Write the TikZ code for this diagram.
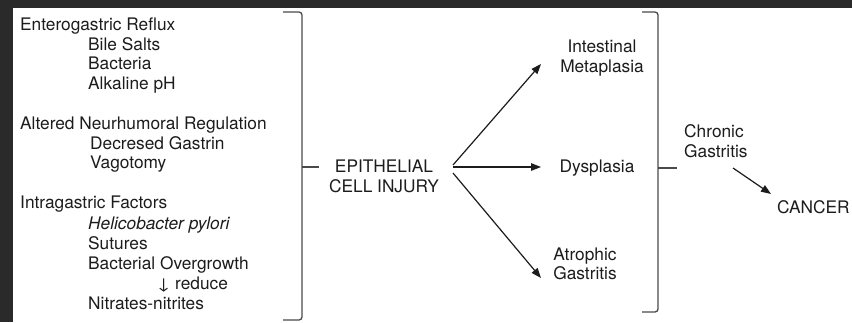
\documentclass[tikz,border=0pt]{standalone}
\usepackage{fontspec}
\setmainfont{TeX Gyre Heros}
\usetikzlibrary{arrows.meta}
\definecolor{ink}{HTML}{1C1C1C}
\definecolor{bgdark}{HTML}{2A2A2A}
\definecolor{brk}{HTML}{4A4A4A}
\begin{document}
\begin{tikzpicture}[x=1pt,y=-1pt,
  txt/.style={inner sep=0pt,font=\fontsize{17.3}{20}\selectfont,text=ink},
  lw/.style={txt,anchor=base west},
  cw/.style={txt,anchor=base},
  bracket/.style={draw=brk,line width=1.3pt,rounded corners=3pt},
  conn/.style={draw=ink,line width=1.2pt,-{Triangle[length=10pt,width=7.5pt]}}]
\useasboundingbox (0,0) rectangle (852,322);
\fill[bgdark] (0,0) rectangle (852,322);
\fill[white] (13,8) rectangle (852,322);
% left column
\node[lw] (t1) at (20,30) {Enterogastric Reflux};
\node[lw] (t2) at (88,50) {Bile Salts};
\node[lw] (t3) at (88,69.5) {Bacteria};
\node[lw] (t4) at (88,89) {Alkaline pH};
\node[lw] (t5) at (20,129) {Altered Neurhumoral Regulation};
\node[lw] (t6) at (90,149) {Decresed Gastrin};
\node[lw] (t7) at (90,168.5) {Vagotomy};
\node[lw] (t8) at (20,208) {Intragastric Factors};
\node[lw] (t9) at (88,229) {\itshape Helicobacter pylori};
\node[lw] (t10) at (88,249) {Sutures};
\node[lw] (t11) at (88,269) {Bacterial Overgrowth};
\node[lw] (t12) at (157,289) {↓ reduce};
\node[lw] (t13) at (88,309) {Nitrates-nitrites};
% left bracket
\draw[bracket] (283,12) -- (302,12) -- (302,320) -- (283,320);
\draw[draw=brk,line width=1.3pt] (302,167) -- (319,167);
% central
\node[cw] (e1) at (384,172) {EPITHELIAL};
\node[cw] (e2) at (384,192) {CELL INJURY};
\coordinate (s1) at (453,165);
\coordinate (s2) at (453,167);
\coordinate (s3) at (453,173);
% outcomes
\node[cw] (m1) at (602,52) {Intestinal};
\node[cw] (m2) at (602,72) {Metaplasia};
\node[cw] (d1) at (597,172) {Dysplasia};
\node[cw] (a1) at (585,260) {Atrophic};
\node[cw] (a2) at (585,279) {Gastritis};
\coordinate (g1) at (541,64);
\coordinate (g2) at (541,167);
\coordinate (g3) at (541,278);
\draw[conn] (s1) -- (g1);
\draw[conn] (s2) -- (g2);
\draw[conn] (s3) -- (g3);
% right bracket
\draw[bracket] (642,12) -- (658,12) -- (658,312) -- (642,312);
\draw[draw=brk,line width=1.3pt] (658,168) -- (677,168);
\node[lw] (c1) at (684,137) {Chronic};
\node[lw] (c2) at (684,157) {Gastritis};
\node[lw] (ca) at (777,213) {CANCER};
\coordinate (h1) at (733,168);
\coordinate (h2) at (771,194);
\draw[conn] (h1) -- (h2);
\end{tikzpicture}
\end{document}
